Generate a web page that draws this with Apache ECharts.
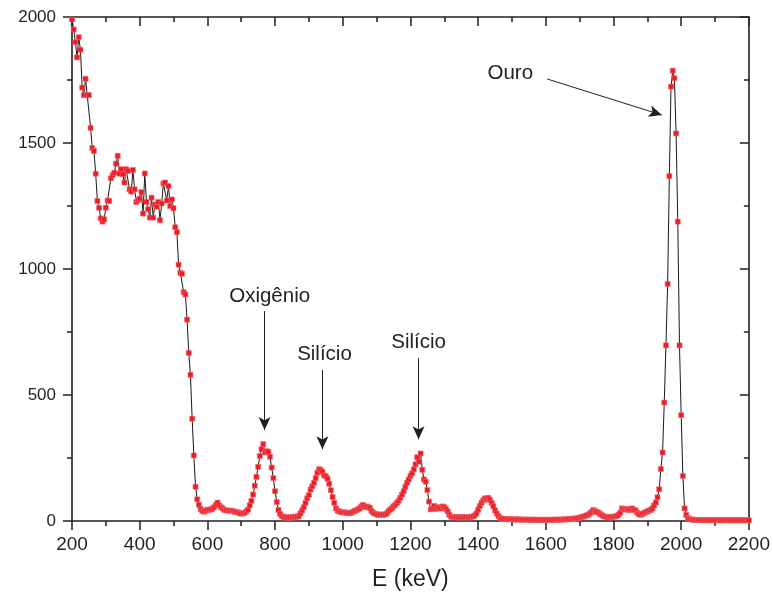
<!DOCTYPE html>
<html>
<head>
<meta charset="utf-8">
<script src="https://cdn.jsdelivr.net/npm/echarts@6/dist/echarts.min.js"></script>
<style>
  html, body { margin: 0; padding: 0; background: #fff; }
  #chart { width: 773px; height: 598px; }
</style>
</head>
<body>
<div id="chart"></div>
<script>
// RBS spectrum: counts per channel, channels every 5 keV from 200 keV to 2200 keV
const energyStart = 200;
const energyStep = 5;

// 200 - 595 keV: substrate edge region
const countsEdge = [
  1990, 1950, 1900, 1840, 1920, 1870, 1720, 1690, 1755, 1690,
  1690, 1560, 1480, 1468, 1378, 1270, 1243, 1201, 1188, 1197,
  1243, 1272, 1270, 1360, 1373, 1382, 1418, 1449, 1378, 1396,
  1376, 1343, 1396, 1389, 1316, 1307, 1393, 1316, 1266, 1274,
  1279, 1305, 1220, 1379, 1266, 1237, 1204, 1283, 1204, 1256,
  1247, 1266, 1194, 1260, 1339, 1343, 1272, 1329, 1250, 1276,
  1241, 1166, 1146, 1017, 985, 981, 908, 899, 799, 667,
  580, 406, 260, 136, 86, 64, 47, 40, 37, 41
];

// 600 - 995 keV: oxygen and first silicon peaks
const countsOxygen = [
  45, 44, 46, 49, 55, 64, 73, 62, 55, 50,
  44, 42, 41, 41, 41, 40, 37, 36, 34, 32,
  29, 30, 32, 38, 45, 62, 80, 105, 140, 175,
  215, 258, 285, 305, 272, 277, 275, 255, 212, 170,
  118, 75, 44, 28, 20, 15, 14, 16, 13, 15,
  14, 17, 15, 17, 20, 30, 42, 55, 72, 90,
  103, 125, 138, 152, 170, 192, 206, 202, 195, 181,
  177, 168, 148, 122, 95, 72, 50, 41, 38, 36
];

// 1000 - 1395 keV: second silicon peak
const countsSilicon = [
  34, 34, 33, 32, 31, 32, 36, 40, 42, 46,
  50, 58, 64, 55, 58, 55, 52, 40, 33, 29,
  27, 24, 25, 26, 24, 26, 30, 38, 45, 50,
  58, 64, 72, 80, 92, 105, 118, 136, 152, 165,
  179, 189, 205, 225, 253, 235, 268, 203, 165, 156,
  123, 77, 46, 50, 60, 48, 55, 52, 50, 58,
  55, 48, 38, 25, 17, 16, 15, 16, 15, 14,
  16, 15, 14, 16, 15, 14, 17, 18, 22, 30
];

// 1400 - 1795 keV
const countsMid = [
  45, 60, 72, 82, 90, 86, 92, 84, 72, 58,
  42, 30, 20, 13, 10, 8, 8, 7, 7, 8,
  6, 7, 6, 5, 7, 6, 5, 6, 5, 6,
  5, 4, 6, 5, 4, 5, 4, 5, 4, 5,
  4, 5, 4, 5, 4, 5, 6, 5, 6, 5,
  6, 7, 6, 7, 8, 8, 9, 10, 10, 11,
  13, 15, 17, 19, 22, 25, 30, 35, 44, 40,
  36, 34, 28, 24, 19, 17, 16, 15, 15, 16
];

// 1800 - 2200 keV: gold peak
const countsGold = [
  17, 18, 20, 25, 33, 50, 46, 46, 48, 43,
  46, 50, 44, 42, 33, 27, 24, 28, 31, 35,
  38, 41, 44, 50, 62, 73, 94, 126, 206, 272,
  470, 697, 941, 1369, 1724, 1787, 1757, 1538, 1188, 697,
  420, 179, 50, 24, 12, 8, 6, 5, 5, 4,
  4, 4, 3, 4, 3, 4, 3, 3, 4, 3,
  3, 3, 4, 3, 3, 3, 3, 4, 3, 3,
  3, 3, 3, 3, 3, 3, 3, 3, 3, 3, 3
];

// Peak labels (centre of text) and their arrows [from, to] in data units
const peakLabels = ['Oxigênio', 'Silício', 'Silício', 'Ouro'];
const peakLabelPos = [[784, 893], [946, 663], [1224, 710], [1495, 1778]];
const peakArrows = [
  [[769, 833], [769, 361]],
  [[940, 599], [940, 285]],
  [[1224, 647], [1224, 324]],
  [[1604, 1754], [1943, 1611]]
];

const xTicks = { min: 200, max: 2200, interval: 200 };
const yTicks = { min: 0, max: 2000, interval: 500 };

const counts = [].concat(countsEdge, countsOxygen, countsSilicon, countsMid, countsGold);
const spectrum = counts.map((c, i) => [energyStart + i * energyStep, c]);

const FONT = '"Liberation Sans", Arial, sans-serif';
const INK = '#231f20';
const plain = v => String(v);

const axisLine = { show: true, onZero: false, lineStyle: { color: INK, width: 1.6 } };

function xAxisCfg(pos, withLabels) {
  return {
    type: 'value', position: pos,
    min: xTicks.min, max: xTicks.max, interval: xTicks.interval,
    axisLine: axisLine,
    axisTick: { show: true, inside: !withLabels, length: 9, lineStyle: { color: INK, width: 1.5 } },
    minorTick: { show: true, splitNumber: 2, length: 5, lineStyle: { color: INK, width: 1.5 } },
    splitLine: { show: false },
    axisLabel: { show: withLabels, formatter: plain, fontFamily: FONT, fontSize: 19, color: INK, margin: 14 },
    name: withLabels ? 'E (keV)' : '',
    nameLocation: 'middle', nameGap: 47,
    nameTextStyle: { fontFamily: FONT, fontSize: 23, color: INK }
  };
}

function yAxisCfg(pos, withLabels) {
  return {
    type: 'value', position: pos,
    min: yTicks.min, max: yTicks.max, interval: yTicks.interval,
    axisLine: axisLine,
    axisTick: { show: true, inside: !withLabels, length: 9, lineStyle: { color: INK, width: 1.5 } },
    minorTick: { show: true, splitNumber: 2, length: 5, lineStyle: { color: INK, width: 1.5 } },
    splitLine: { show: false },
    axisLabel: { show: withLabels, formatter: plain, fontFamily: FONT, fontSize: 17, color: INK, margin: 16 }
  };
}

const chart = echarts.init(document.getElementById('chart'), null, { renderer: 'canvas' });

chart.setOption({
  animation: false,
  backgroundColor: '#ffffff',
  grid: { left: 72, right: 23, top: 17, bottom: 77, containLabel: false },
  xAxis: [xAxisCfg('bottom', true), xAxisCfg('top', false)],
  yAxis: [yAxisCfg('left', true), yAxisCfg('right', false)],
  series: [
    {
      type: 'line',
      data: spectrum,
      showAllSymbol: true,
      symbol: 'rect',
      symbolSize: 5,
      itemStyle: { color: '#ed1c24', borderColor: '#f26a70', borderWidth: 0.6 },
      lineStyle: { color: '#1a1a1a', width: 1 },
      z: 3
    },
    {
      type: 'scatter',
      data: peakLabels.map((n, i) => ({ name: n, value: peakLabelPos[i] })),
      symbolSize: 0,
      silent: true,
      itemStyle: { opacity: 1 },
      label: {
        show: true, position: 'inside', formatter: '{b}',
        fontFamily: FONT, fontSize: 20.5, color: INK,
        textBorderWidth: 0, opacity: 1
      },
      markLine: {
        silent: true,
        symbol: ['none', 'arrow'],
        symbolSize: [9, 13],
        label: { show: false },
        lineStyle: { color: INK, width: 1, type: 'solid', opacity: 1 },
        data: peakArrows.map(a => [{ coord: a[0] }, { coord: a[1] }])
      },
      z: 4
    }
  ]
});
</script>
</body>
</html>
